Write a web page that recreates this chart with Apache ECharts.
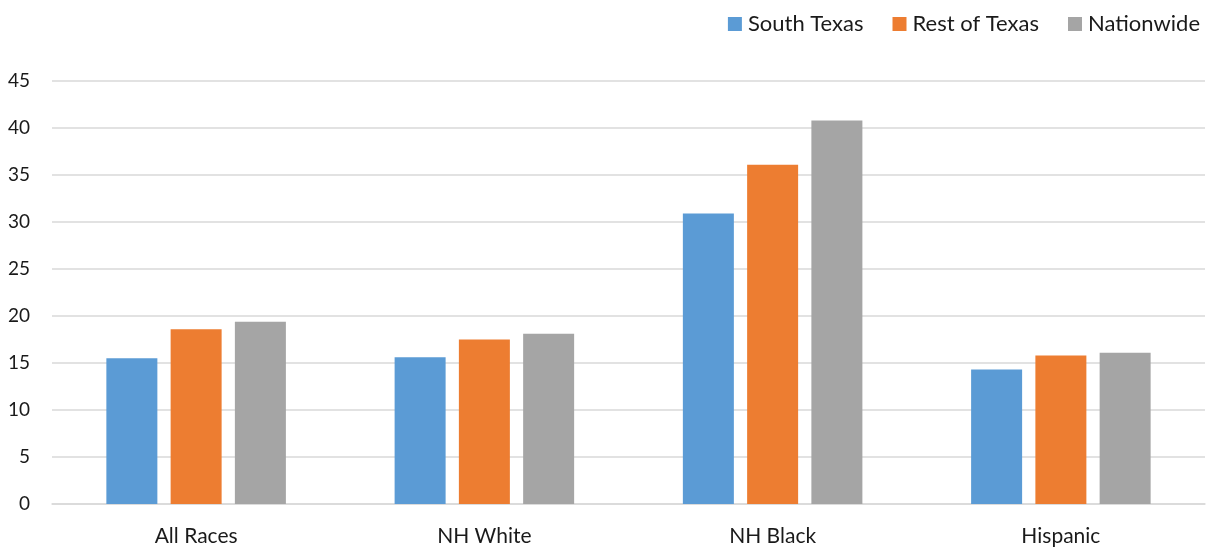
<!DOCTYPE html>
<html>
<head>
<meta charset="utf-8">
<script src="https://cdn.jsdelivr.net/npm/echarts@6/dist/echarts.min.js"></script>
<style>
  html, body { margin: 0; padding: 0; background: #fff; }
  #chart { width: 1211px; height: 548px; }
</style>
</head>
<body>
<div id="chart"></div>
<script>
// Groups along the x axis
const categories = ['All Races', 'NH White', 'NH Black', 'Hispanic'];

// Rates per group
const southTexas = [15.5, 15.6, 30.9, 14.3];
const restOfTexas = [18.6, 17.5, 36.1, 15.8];
const nationwide = [19.4, 18.1, 40.8, 16.1];

const seriesNames = ['South Texas', 'Rest of Texas', 'Nationwide'];
const seriesColors = ['#5B9BD5', '#ED7D31', '#A5A5A5'];
const seriesData = [southTexas, restOfTexas, nationwide];

const FONT = 'Lato, "Open Sans", sans-serif';

const chart = echarts.init(document.getElementById('chart'), null, { renderer: 'canvas' });

chart.setOption({
  animation: false,
  textStyle: { fontFamily: FONT },
  legend: {
    top: 8,
    right: 6,
    itemWidth: 14,
    itemHeight: 14,
    itemGap: 29,
    icon: 'rect',
    textStyle: { fontFamily: FONT, fontSize: 22, color: '#1a1a1a', padding: [0, 0, 0, 1] },
    data: seriesNames
  },
  grid: { left: 52, right: 6, top: 81, bottom: 44, containLabel: false },
  xAxis: {
    type: 'category',
    data: categories,
    axisTick: { show: false },
    axisLine: { lineStyle: { color: '#D9D9D9', width: 1.5 } },
    axisLabel: { fontFamily: FONT, fontSize: 21, color: '#1a1a1a', margin: 22 }
  },
  yAxis: {
    type: 'value',
    min: 0,
    max: 45,
    interval: 5,
    axisLine: { show: false },
    axisTick: { show: false },
    splitLine: { lineStyle: { color: '#D9D9D9', width: 1.5 } },
    axisLabel: { fontFamily: FONT, fontSize: 19, color: '#1a1a1a', margin: 22 }
  },
  series: seriesData.map((d, i) => ({
    name: seriesNames[i],
    type: 'bar',
    data: d,
    barWidth: 51,
    barGap: '26%',
    itemStyle: { color: seriesColors[i] }
  }))
});
</script>
</body>
</html>
